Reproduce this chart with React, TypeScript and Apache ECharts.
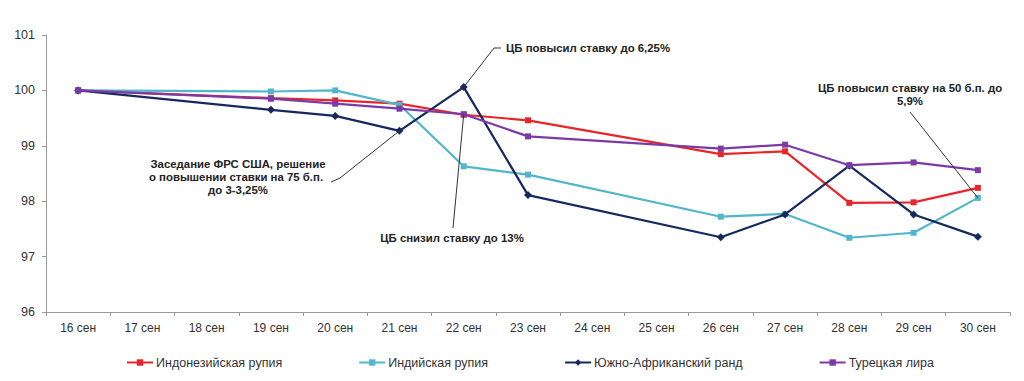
import React, { useEffect, useRef } from "react";
import * as echarts from "echarts";

const categories = ["16 сен", "17 сен", "18 сен", "19 сен", "20 сен", "21 сен", "22 сен", "23 сен", "24 сен", "25 сен", "26 сен", "27 сен", "28 сен", "29 сен", "30 сен"];
const seriesNames = ["Индонезийская рупия", "Индийская рупия", "Южно-Африканский ранд", "Турецкая лира"];
const idr = [100.0, null, null, 99.86, 99.82, 99.76, 99.56, 99.46, null, null, 98.85, 98.9, 97.97, 97.98, 98.24];
const inr = [100.0, null, null, 99.98, 100.0, 99.74, 98.63, 98.48, null, null, 97.72, 97.77, 97.34, 97.43, 98.06];
const zar = [100.0, null, null, 99.65, 99.54, 99.27, 100.06, 98.11, null, null, 97.35, 97.76, 98.64, 97.76, 97.36];
const tryL = [100.0, null, null, 99.85, 99.76, 99.67, 99.57, 99.17, null, null, 98.95, 99.02, 98.65, 98.7, 98.56];
const yTicks = { min: 96, max: 101, interval: 1 };

const colors = ["#e8262a", "#52b6cb", "#17285e", "#7b3aa5"];
const symbols = ["rect", "rect", "diamond", "rect"];
const allData = [idr, inr, zar, tryL];

const FONT = "Liberation Sans, Arial, sans-serif";

export default function App() {
  const ref = useRef<HTMLDivElement>(null);
  useEffect(() => {
    const chart = echarts.init(ref.current!, undefined, { renderer: "svg" });
    chart.setOption({
      animation: false,
      textStyle: { fontFamily: FONT },
      grid: { left: 46, right: 14, top: 35, bottom: 69 },
      legend: {
        left: 121,
        top: 351,
        itemGap: 76,
        itemWidth: 26,
        itemHeight: 8,
        textStyle: { fontSize: 12.5, color: "#333", fontFamily: FONT, padding: [0, 0, 0, -2] },
        data: seriesNames,
      },
      xAxis: {
        type: "category",
        data: categories,
        boundaryGap: true,
        axisLine: { lineStyle: { color: "#999", width: 1 } },
        axisTick: { show: true, length: 4, lineStyle: { color: "#999" } },
        axisLabel: { fontSize: 12, color: "#333", margin: 10, fontFamily: FONT },
        splitLine: { show: false },
      },
      yAxis: {
        type: "value",
        min: yTicks.min,
        max: yTicks.max,
        interval: yTicks.interval,
        axisLine: { show: true, lineStyle: { color: "#999", width: 1 } },
        axisTick: { show: true, length: 4, lineStyle: { color: "#999" } },
        axisLabel: { fontSize: 12.5, color: "#333", margin: 11, fontFamily: FONT },
        splitLine: { show: false },
      },
      series: seriesNames.map((name, i) => ({
        name,
        type: "line",
        data: allData[i],
        connectNulls: true,
        symbol: symbols[i],
        symbolSize: i === 2 ? 8 : 6,
        showSymbol: true,
        lineStyle: { color: colors[i], width: 2.2 },
        itemStyle: { color: colors[i] },
        z: 2 + i,
      })),
    });

    const p = (si: number, ci: number) => chart.convertToPixel({ seriesIndex: si }, [ci, allData[si][ci] as number]) as number[];
    const navy21 = p(2, 5);
    const navy22 = p(2, 6);
    const purple22 = p(3, 6);
    const cyan30 = p(1, 14);
    const ann = { fontSize: 11.4, fontWeight: "bold", fill: "#222", fontFamily: FONT };
    const lineStyle = { stroke: "#333", lineWidth: 1, fill: null };
    chart.setOption({
      graphic: [
        { type: "text", x: 238, y: 164, style: { ...ann, text: "Заседание ФРС США, решение", align: "center", verticalAlign: "middle" } },
        { type: "text", x: 236, y: 177, style: { ...ann, text: "о повышении ставки на 75 б.п.", align: "center", verticalAlign: "middle" } },
        { type: "text", x: 238, y: 190, style: { ...ann, text: "до 3-3,25%", align: "center", verticalAlign: "middle" } },
        { type: "polyline", shape: { points: [[331, 182], [340, 178], navy21] }, style: lineStyle, z: 10 },
        { type: "text", x: 506, y: 48, style: { ...ann, text: "ЦБ повысил ставку до 6,25%", align: "left", verticalAlign: "middle" } },
        { type: "polyline", shape: { points: [[501, 48], [494, 48], navy22] }, style: lineStyle, z: 10 },
        { type: "text", x: 452, y: 238, style: { ...ann, text: "ЦБ снизил ставку до 13%", align: "center", verticalAlign: "middle" } },
        { type: "line", shape: { x1: 453, y1: 228, x2: purple22[0], y2: purple22[1] }, style: lineStyle, z: 10 },
        { type: "text", x: 910, y: 88, style: { ...ann, text: "ЦБ повысил ставку на 50 б.п. до", align: "center", verticalAlign: "middle" } },
        { type: "text", x: 910, y: 101, style: { ...ann, text: "5,9%", align: "center", verticalAlign: "middle" } },
        { type: "line", shape: { x1: 910, y1: 112, x2: cyan30[0], y2: cyan30[1] }, style: lineStyle, z: 10 },
      ],
    });
    return () => chart.dispose();
  }, []);
  return <div ref={ref} style={{ position: "absolute", left: 0, top: 0, width: 1024, height: 381, background: "#fff" }} />;
}
